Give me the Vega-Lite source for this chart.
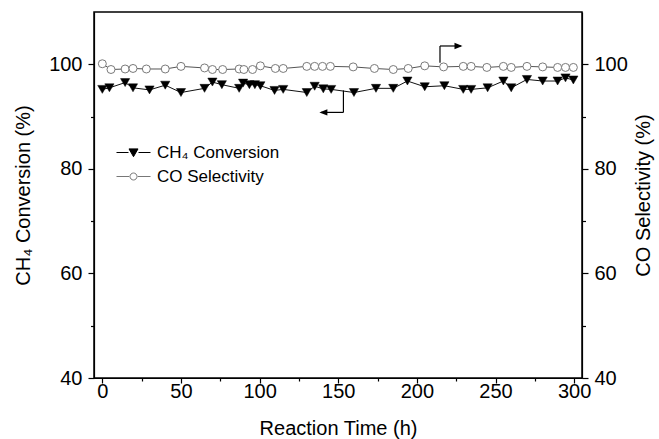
{
  "$schema": "https://vega.github.io/schema/vega-lite/v6.json",
  "width": 488,
  "height": 366,
  "autosize": "none",
  "padding": {"left": 94, "top": 12, "right": 77, "bottom": 61},
  "background": "white",
  "config": {
    "font": "Liberation Sans",
    "view": {"stroke": "black", "strokeWidth": 1.5},
    "axis": {
      "grid": false,
      "domainColor": "black",
      "domainWidth": 1.2,
      "tickColor": "black",
      "tickWidth": 1.2,
      "labelColor": "black",
      "titleColor": "black",
      "labelFontSize": 20,
      "titleFontSize": 20,
      "titleFontWeight": "normal",
      "labelFlush": false,
      "labelOverlap": false
    }
  },
  "datasets": {
    "pts": [
      {"t": 0, "v": 95.2, "s": "CH₄ Conversion"},
      {"t": 4.5, "v": 95.5, "s": "CH₄ Conversion"},
      {"t": 14.5, "v": 96.5, "s": "CH₄ Conversion"},
      {"t": 19.5, "v": 95.5, "s": "CH₄ Conversion"},
      {"t": 30, "v": 95.1, "s": "CH₄ Conversion"},
      {"t": 40, "v": 96.0, "s": "CH₄ Conversion"},
      {"t": 50, "v": 94.6, "s": "CH₄ Conversion"},
      {"t": 65, "v": 95.4, "s": "CH₄ Conversion"},
      {"t": 70, "v": 96.6, "s": "CH₄ Conversion"},
      {"t": 76, "v": 96.1, "s": "CH₄ Conversion"},
      {"t": 87, "v": 95.4, "s": "CH₄ Conversion"},
      {"t": 89.5, "v": 96.4, "s": "CH₄ Conversion"},
      {"t": 93.5, "v": 96.1, "s": "CH₄ Conversion"},
      {"t": 97, "v": 96.1, "s": "CH₄ Conversion"},
      {"t": 100.5, "v": 95.9, "s": "CH₄ Conversion"},
      {"t": 109.5, "v": 95.0, "s": "CH₄ Conversion"},
      {"t": 115, "v": 95.2, "s": "CH₄ Conversion"},
      {"t": 130, "v": 94.6, "s": "CH₄ Conversion"},
      {"t": 135, "v": 95.8, "s": "CH₄ Conversion"},
      {"t": 140.5, "v": 95.3, "s": "CH₄ Conversion"},
      {"t": 145.5, "v": 95.2, "s": "CH₄ Conversion"},
      {"t": 160, "v": 94.6, "s": "CH₄ Conversion"},
      {"t": 174, "v": 95.4, "s": "CH₄ Conversion"},
      {"t": 185, "v": 95.4, "s": "CH₄ Conversion"},
      {"t": 194, "v": 96.8, "s": "CH₄ Conversion"},
      {"t": 205, "v": 95.7, "s": "CH₄ Conversion"},
      {"t": 217.5, "v": 95.9, "s": "CH₄ Conversion"},
      {"t": 229.5, "v": 95.2, "s": "CH₄ Conversion"},
      {"t": 234.5, "v": 95.2, "s": "CH₄ Conversion"},
      {"t": 245, "v": 95.5, "s": "CH₄ Conversion"},
      {"t": 255, "v": 96.8, "s": "CH₄ Conversion"},
      {"t": 260, "v": 95.5, "s": "CH₄ Conversion"},
      {"t": 270, "v": 97.1, "s": "CH₄ Conversion"},
      {"t": 280, "v": 96.8, "s": "CH₄ Conversion"},
      {"t": 289.5, "v": 96.8, "s": "CH₄ Conversion"},
      {"t": 294.5, "v": 97.4, "s": "CH₄ Conversion"},
      {"t": 299.5, "v": 97.0, "s": "CH₄ Conversion"},
      {"t": 0, "v": 100.1, "s": "CO Selectivity"},
      {"t": 5.5, "v": 99.0, "s": "CO Selectivity"},
      {"t": 14.5, "v": 99.1, "s": "CO Selectivity"},
      {"t": 19.5, "v": 99.2, "s": "CO Selectivity"},
      {"t": 28, "v": 99.1, "s": "CO Selectivity"},
      {"t": 40, "v": 99.1, "s": "CO Selectivity"},
      {"t": 50, "v": 99.6, "s": "CO Selectivity"},
      {"t": 65, "v": 99.3, "s": "CO Selectivity"},
      {"t": 70, "v": 99.0, "s": "CO Selectivity"},
      {"t": 76.5, "v": 99.0, "s": "CO Selectivity"},
      {"t": 87, "v": 99.1, "s": "CO Selectivity"},
      {"t": 90, "v": 99.0, "s": "CO Selectivity"},
      {"t": 95.5, "v": 99.0, "s": "CO Selectivity"},
      {"t": 100.5, "v": 99.7, "s": "CO Selectivity"},
      {"t": 110, "v": 99.2, "s": "CO Selectivity"},
      {"t": 115, "v": 99.2, "s": "CO Selectivity"},
      {"t": 130, "v": 99.6, "s": "CO Selectivity"},
      {"t": 135, "v": 99.6, "s": "CO Selectivity"},
      {"t": 140, "v": 99.6, "s": "CO Selectivity"},
      {"t": 145, "v": 99.6, "s": "CO Selectivity"},
      {"t": 159.5, "v": 99.5, "s": "CO Selectivity"},
      {"t": 173, "v": 99.2, "s": "CO Selectivity"},
      {"t": 185, "v": 99.0, "s": "CO Selectivity"},
      {"t": 194.5, "v": 99.2, "s": "CO Selectivity"},
      {"t": 205, "v": 99.7, "s": "CO Selectivity"},
      {"t": 217, "v": 99.5, "s": "CO Selectivity"},
      {"t": 229.5, "v": 99.6, "s": "CO Selectivity"},
      {"t": 234.5, "v": 99.6, "s": "CO Selectivity"},
      {"t": 244.5, "v": 99.4, "s": "CO Selectivity"},
      {"t": 255, "v": 99.6, "s": "CO Selectivity"},
      {"t": 260, "v": 99.4, "s": "CO Selectivity"},
      {"t": 270, "v": 99.6, "s": "CO Selectivity"},
      {"t": 280, "v": 99.5, "s": "CO Selectivity"},
      {"t": 289.5, "v": 99.4, "s": "CO Selectivity"},
      {"t": 294.5, "v": 99.4, "s": "CO Selectivity"},
      {"t": 299.5, "v": 99.4, "s": "CO Selectivity"}
    ],
    "arrows": [
      {"side": "L", "t": 153.3, "v": 95.0, "t2": 153.3, "v2": 90.8},
      {"side": "L", "t": 153.3, "v": 90.8, "t2": 139, "v2": 90.8},
      {"side": "R", "t": 214.7, "v": 100.3, "t2": 214.7, "v2": 103.5},
      {"side": "R", "t": 214.7, "v": 103.5, "t2": 228, "v2": 103.5}
    ],
    "heads": [
      {"side": "L", "t": 138, "v": 90.8},
      {"side": "R", "t": 229, "v": 103.5}
    ]
  },
  "layer": [
    {
      "encoding": {
        "x": {
          "field": "t", "type": "quantitative",
          "scale": {"domain": [-5.3, 305]},
          "axis": {
            "orient": "bottom",
            "title": "Reaction Time (h)",
            "values": [0, 25, 50, 75, 100, 125, 150, 175, 200, 225, 250, 275, 300],
            "labelExpr": "datum.value % 50 === 0 ? datum.label : ''",
            "tickSize": {"condition": {"test": "datum.value % 50 !== 0", "value": 3}, "value": 5},
            "labelPadding": -2,
            "titlePadding": 17
          }
        },
        "y": {
          "field": "v", "type": "quantitative",
          "scale": {"domain": [40, 110]},
          "axis": {
            "orient": "left",
            "title": "CH₄ Conversion (%)",
            "values": [40, 50, 60, 70, 80, 90, 100],
            "labelExpr": "datum.value % 20 === 0 ? datum.label : ''",
            "tickSize": {"condition": {"test": "datum.value % 20 !== 0", "value": 3.5}, "value": 6},
            "labelPadding": 6,
            "titlePadding": 15
          }
        }
      },
      "layer": [
        {
          "data": {"name": "pts"},
          "transform": [{"filter": "datum.s === 'CH₄ Conversion'"}],
          "mark": {"type": "line", "color": "#111111", "strokeWidth": 1}
        },
        {
          "data": {"name": "pts"},
          "transform": [{"filter": "datum.s === 'CH₄ Conversion'"}],
          "mark": {"type": "point", "shape": "triangle-down", "filled": true, "fill": "black", "stroke": "black", "strokeWidth": 0.5, "size": 85, "opacity": 1}
        },
        {
          "data": {"name": "pts"},
          "transform": [{"filter": "datum.t === 0"}],
          "mark": {"type": "point", "filled": true, "opacity": 0, "strokeWidth": 1},
          "encoding": {
            "shape": {
              "field": "s", "type": "nominal",
              "scale": {"domain": ["CH₄ Conversion", "CO Selectivity"], "range": ["M-1.7,0H-0.5M0.5,0H1.7M-0.45,-0.36L0.45,-0.36L0,0.42Z", "M-1.7,0H-0.42M0.42,0H1.7M0.35,0A0.35,0.35 0 1,1 -0.35,0A0.35,0.35 0 1,1 0.35,0Z"]},
              "legend": {
                "orient": "none",
                "legendX": 29,
                "legendY": 130,
                "title": null,
                "symbolSize": 400,
                "symbolStrokeWidth": 1,
                "symbolOpacity": 1,
                "labelFontSize": 17,
                "labelColor": "black",
                "labelOffset": 13,
                "rowPadding": 5
              }
            },
            "fill": {
              "field": "s", "type": "nominal",
              "scale": {"domain": ["CH₄ Conversion", "CO Selectivity"], "range": ["black", "white"]},
              "legend": {
                "orient": "none",
                "legendX": 29,
                "legendY": 130,
                "title": null,
                "symbolSize": 400,
                "symbolStrokeWidth": 1,
                "symbolOpacity": 1,
                "labelFontSize": 17,
                "labelColor": "black",
                "labelOffset": 13,
                "rowPadding": 5
              }
            },
            "stroke": {
              "field": "s", "type": "nominal",
              "scale": {"domain": ["CH₄ Conversion", "CO Selectivity"], "range": ["black", "#777777"]},
              "legend": {
                "orient": "none",
                "legendX": 29,
                "legendY": 130,
                "title": null,
                "symbolSize": 400,
                "symbolStrokeWidth": 1,
                "symbolOpacity": 1,
                "labelFontSize": 17,
                "labelColor": "black",
                "labelOffset": 13,
                "rowPadding": 5
              }
            }
          }
        },
        {
          "data": {"name": "arrows"},
          "transform": [{"filter": "datum.side === 'L'"}],
          "mark": {"type": "rule", "color": "black", "strokeWidth": 1.2},
          "encoding": {
            "x2": {"field": "t2"},
            "y2": {"field": "v2"}
          }
        },
        {
          "data": {"name": "heads"},
          "transform": [{"filter": "datum.side === 'L'"}],
          "mark": {"type": "point", "shape": "M0,0L1,-0.4L1,0.4Z", "filled": true, "fill": "black", "size": 256, "opacity": 1}
        }
      ]
    },
    {
      "encoding": {
        "x": {
          "field": "t", "type": "quantitative",
          "scale": {"domain": [-5.3, 305]},
          "axis": {
            "orient": "bottom",
            "title": "Reaction Time (h)",
            "values": [0, 25, 50, 75, 100, 125, 150, 175, 200, 225, 250, 275, 300],
            "labelExpr": "datum.value % 50 === 0 ? datum.label : ''",
            "tickSize": {"condition": {"test": "datum.value % 50 !== 0", "value": 3}, "value": 5},
            "labelPadding": -2,
            "titlePadding": 17
          }
        },
        "y": {
          "field": "v", "type": "quantitative",
          "scale": {"domain": [40, 110]},
          "axis": {
            "orient": "right",
            "title": "CO Selectivity (%)",
            "titleAngle": -90,
            "values": [40, 50, 60, 70, 80, 90, 100],
            "labelExpr": "datum.value % 20 === 0 ? datum.label : ''",
            "tickSize": {"condition": {"test": "datum.value % 20 !== 0", "value": 3.5}, "value": 6},
            "labelPadding": 6,
            "titlePadding": 26
          }
        }
      },
      "layer": [
        {
          "data": {"name": "pts"},
          "transform": [{"filter": "datum.s === 'CO Selectivity'"}],
          "mark": {"type": "line", "color": "#555555", "strokeWidth": 1}
        },
        {
          "data": {"name": "pts"},
          "transform": [{"filter": "datum.s === 'CO Selectivity'"}],
          "mark": {"type": "point", "shape": "circle", "filled": false, "fill": "white", "fillOpacity": 1, "stroke": "#7a7a7a", "strokeWidth": 1, "size": 64, "opacity": 1}
        },
        {
          "data": {"name": "arrows"},
          "transform": [{"filter": "datum.side === 'R'"}],
          "mark": {"type": "rule", "color": "black", "strokeWidth": 1.2},
          "encoding": {
            "x2": {"field": "t2"},
            "y2": {"field": "v2"}
          }
        },
        {
          "data": {"name": "heads"},
          "transform": [{"filter": "datum.side === 'R'"}],
          "mark": {"type": "point", "shape": "M0,0L-1,-0.4L-1,0.4Z", "filled": true, "fill": "black", "size": 256, "opacity": 1}
        }
      ]
    }
  ],
  "resolve": {"scale": {"y": "independent"}}
}
